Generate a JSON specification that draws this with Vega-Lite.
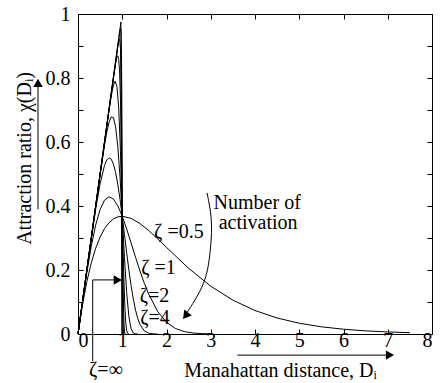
{
  "$schema": "https://vega.github.io/schema/vega-lite/v6.json",
  "width": 354,
  "height": 320,
  "autosize": {"type": "none"},
  "padding": {"left": 78, "top": 14, "right": 13, "bottom": 49},
  "background": "white",
  "config": {
    "view": {"stroke": "black", "strokeWidth": 1},
    "font": "Liberation Serif",
    "axis": {
      "labelFont": "Liberation Serif", "labelFontSize": 20, "labelColor": "black",
      "titleFont": "Liberation Serif", "titleFontSize": 20, "titleColor": "black", "titleFontWeight": "normal",
      "domainColor": "black", "tickColor": "black", "grid": false, "tickSize": -5
    }
  },
  "datasets": {
    "curves": [
      {"c":"z0.5","x":0,"y":0},{"c":"z0.5","x":0.1,"y":0.0905},{"c":"z0.5","x":0.2,"y":0.1637},{"c":"z0.5","x":0.3,"y":0.2222},{"c":"z0.5","x":0.4,"y":0.2681},{"c":"z0.5","x":0.5,"y":0.3033},{"c":"z0.5","x":0.6,"y":0.3293},{"c":"z0.5","x":0.7,"y":0.3476},{"c":"z0.5","x":0.8,"y":0.3595},{"c":"z0.5","x":0.9,"y":0.3659},{"c":"z0.5","x":1.0,"y":0.3679},{"c":"z0.5","x":1.2,"y":0.3614},{"c":"z0.5","x":1.4,"y":0.3452},{"c":"z0.5","x":1.6,"y":0.323},{"c":"z0.5","x":1.8,"y":0.2975},{"c":"z0.5","x":2.0,"y":0.2707},{"c":"z0.5","x":2.5,"y":0.2052},{"c":"z0.5","x":3.0,"y":0.1494},{"c":"z0.5","x":3.5,"y":0.1057},{"c":"z0.5","x":4.0,"y":0.0733},{"c":"z0.5","x":4.5,"y":0.05},{"c":"z0.5","x":5.0,"y":0.0337},{"c":"z0.5","x":5.5,"y":0.0225},{"c":"z0.5","x":6.0,"y":0.0149},{"c":"z0.5","x":6.5,"y":0.0098},{"c":"z0.5","x":7.0,"y":0.0064},{"c":"z0.5","x":7.5,"y":0.0041},
      {"c":"z1","x":0,"y":0},{"c":"z1","x":0.1,"y":0.099},{"c":"z1","x":0.2,"y":0.1922},{"c":"z1","x":0.3,"y":0.2742},{"c":"z1","x":0.4,"y":0.3408},{"c":"z1","x":0.5,"y":0.3894},{"c":"z1","x":0.6,"y":0.4186},{"c":"z1","x":0.7,"y":0.4288},{"c":"z1","x":0.8,"y":0.4218},{"c":"z1","x":0.9,"y":0.4004},{"c":"z1","x":1.0,"y":0.3679},{"c":"z1","x":1.1,"y":0.328},{"c":"z1","x":1.2,"y":0.2843},{"c":"z1","x":1.3,"y":0.2399},{"c":"z1","x":1.4,"y":0.1972},{"c":"z1","x":1.5,"y":0.1581},{"c":"z1","x":1.6,"y":0.1237},{"c":"z1","x":1.8,"y":0.0705},{"c":"z1","x":2.0,"y":0.0366},{"c":"z1","x":2.2,"y":0.0174},{"c":"z1","x":2.4,"y":0.0076},{"c":"z1","x":2.6,"y":0.003},{"c":"z1","x":2.8,"y":0.0011},{"c":"z1","x":3.0,"y":0.0004},
      {"c":"z2","x":0,"y":0},{"c":"z2","x":0.2,"y":0.1997},{"c":"z2","x":0.4,"y":0.3899},{"c":"z2","x":0.5,"y":0.4697},{"c":"z2","x":0.6,"y":0.527},{"c":"z2","x":0.65,"y":0.5437},{"c":"z2","x":0.7,"y":0.5506},{"c":"z2","x":0.75,"y":0.5466},{"c":"z2","x":0.8,"y":0.5311},{"c":"z2","x":0.85,"y":0.5043},{"c":"z2","x":0.9,"y":0.467},{"c":"z2","x":0.95,"y":0.4208},{"c":"z2","x":1.0,"y":0.3679},{"c":"z2","x":1.05,"y":0.3114},{"c":"z2","x":1.1,"y":0.2544},{"c":"z2","x":1.15,"y":0.2},{"c":"z2","x":1.2,"y":0.1508},{"c":"z2","x":1.25,"y":0.1089},{"c":"z2","x":1.3,"y":0.0748},{"c":"z2","x":1.35,"y":0.0487},{"c":"z2","x":1.4,"y":0.0301},{"c":"z2","x":1.5,"y":0.0095},{"c":"z2","x":1.6,"y":0.0023},{"c":"z2","x":1.7,"y":0.0004},{"c":"z2","x":1.8,"y":0},
      {"c":"z4","x":0,"y":0},{"c":"z4","x":0.5,"y":0.498},{"c":"z4","x":0.6,"y":0.59},{"c":"z4","x":0.65,"y":0.6296},{"c":"z4","x":0.7,"y":0.6608},{"c":"z4","x":0.75,"y":0.6785},{"c":"z4","x":0.8,"y":0.6764},{"c":"z4","x":0.85,"y":0.6473},{"c":"z4","x":0.9,"y":0.5852},{"c":"z4","x":0.95,"y":0.4894},{"c":"z4","x":1.0,"y":0.3679},{"c":"z4","x":1.05,"y":0.2396},{"c":"z4","x":1.1,"y":0.1289},{"c":"z4","x":1.15,"y":0.054},{"c":"z4","x":1.2,"y":0.0163},{"c":"z4","x":1.25,"y":0.0032},{"c":"z4","x":1.3,"y":0.0004},{"c":"z4","x":1.35,"y":0},
      {"c":"z8","x":0,"y":0},{"c":"z8","x":0.6,"y":0.5998},{"c":"z8","x":0.7,"y":0.6977},{"c":"z8","x":0.75,"y":0.7425},{"c":"z8","x":0.8,"y":0.7778},{"c":"z8","x":0.84,"y":0.7899},{"c":"z8","x":0.88,"y":0.7733},{"c":"z8","x":0.92,"y":0.7069},{"c":"z8","x":0.96,"y":0.5705},{"c":"z8","x":1.0,"y":0.3679},{"c":"z8","x":1.02,"y":0.2585},{"c":"z8","x":1.04,"y":0.1599},{"c":"z8","x":1.06,"y":0.0836},{"c":"z8","x":1.08,"y":0.0351},{"c":"z8","x":1.1,"y":0.0111},{"c":"z8","x":1.12,"y":0.0024},{"c":"z8","x":1.15,"y":0},
      {"c":"z16","x":0,"y":0},{"c":"z16","x":0.8,"y":0.7994},{"c":"z16","x":0.85,"y":0.8453},{"c":"z16","x":0.88,"y":0.8654},{"c":"z16","x":0.9,"y":0.8697},{"c":"z16","x":0.92,"y":0.8584},{"c":"z16","x":0.94,"y":0.8188},{"c":"z16","x":0.96,"y":0.7323},{"c":"z16","x":0.98,"y":0.5804},{"c":"z16","x":1.0,"y":0.3679},{"c":"z16","x":1.01,"y":0.2554},{"c":"z16","x":1.02,"y":0.1549},{"c":"z16","x":1.03,"y":0.0784},{"c":"z16","x":1.04,"y":0.0312},{"c":"z16","x":1.05,"y":0.009},{"c":"z16","x":1.06,"y":0.0017},{"c":"z16","x":1.08,"y":0},
      {"c":"z32","x":0,"y":0},{"c":"z32","x":0.9,"y":0.8989},{"c":"z32","x":0.92,"y":0.9156},{"c":"z32","x":0.94,"y":0.9223},{"c":"z32","x":0.96,"y":0.8921},{"c":"z32","x":0.98,"y":0.7448},{"c":"z32","x":0.99,"y":0.5853},{"c":"z32","x":1.0,"y":0.3679},{"c":"z32","x":1.01,"y":0.1525},{"c":"z32","x":1.02,"y":0.0293},{"c":"z32","x":1.03,"y":0.0014},{"c":"z32","x":1.04,"y":0},
      {"c":"z64","x":0,"y":0},{"c":"z64","x":0.94,"y":0.9397},{"c":"z64","x":0.96,"y":0.9549},{"c":"z64","x":0.97,"y":0.9505},{"c":"z64","x":0.98,"y":0.9088},{"c":"z64","x":0.99,"y":0.751},{"c":"z64","x":0.995,"y":0.5877},{"c":"z64","x":1.0,"y":0.3679},{"c":"z64","x":1.005,"y":0.1513},{"c":"z64","x":1.01,"y":0.0284},{"c":"z64","x":1.015,"y":0.0012},{"c":"z64","x":1.02,"y":0},
      {"c":"zinf","x":0,"y":0},{"c":"zinf","x":0.97,"y":0.975},{"c":"zinf","x":0.99,"y":0}
    ],
    "rules": [
      {"x":0.332,"y":-0.085,"x2":0.332,"y2":0.169},
      {"x":0.332,"y":0.169,"x2":0.9,"y2":0.169},
      {"x":-0.904,"y":0.39,"x2":-0.904,"y2":0.78},
      {"x":3.6,"y":-0.066,"x2":7.0,"y2":-0.066}
    ],
    "arc": [
      {"i":1,"x":2.915,"y":0.441},{"i":2,"x":3.006,"y":0.381},{"i":3,"x":3.028,"y":0.319},{"i":4,"x":2.983,"y":0.247},{"i":5,"x":2.915,"y":0.184},{"i":6,"x":2.757,"y":0.131},{"i":7,"x":2.531,"y":0.081},{"i":8,"x":2.44,"y":0.062}
    ],
    "headsRight": [{"x":0.9,"y":0.169},{"x":7.05,"y":-0.066}],
    "headsUp": [{"x":-0.904,"y":0.785}],
    "headsArc": [{"x":2.43,"y":0.057}],
    "labels": [
      {"t":"ζ =0.5","x":2.28,"y":0.32},
      {"t":"ζ =1","x":1.82,"y":0.205},
      {"t":"ζ=2","x":1.73,"y":0.12},
      {"t":"ζ=4","x":1.74,"y":0.05},
      {"t":"ζ=∞","x":0.63,"y":-0.112},
      {"t":"Number of","x":4.05,"y":0.409},
      {"t":"activation","x":4.07,"y":0.347}
    ]
  },
  "layer": [
    {
      "data": {"name": "curves"},
      "mark": {"type": "line", "color": "black", "strokeWidth": 1},
      "encoding": {
        "x": {"field": "x", "type": "quantitative", "scale": {"domain": [0, 8], "nice": false, "zero": false},
          "axis": {"orient": "bottom", "values": [0,1,2,3,4,5,6,7,8], "format": "d", "labelPadding": 1,
            "title": "Manahattan distance, Dᵢ", "titleX": 202, "titleY": 36, "titleAlign": "center", "titleBaseline": "middle"}},
        "y": {"field": "y", "type": "quantitative", "scale": {"domain": [0, 1], "nice": false, "zero": false},
          "axis": {"orient": "left", "values": [0,0.1,0.2,0.3,0.4,0.5,0.6,0.7,0.8,0.9,1],
            "labelExpr": "datum.value == 0 ? '0' : datum.value == 1 ? '1' : (round(datum.value*10) % 2 == 0 ? format(datum.value, '.1f') : '')",
            "labelPadding": 13,
            "title": "Attraction ratio, χ(Dᵢ)", "titleX": -54, "titleY": 144, "titleAngle": -90, "titleAlign": "center", "titleBaseline": "middle"}},
        "detail": {"field": "c"}
      }
    },
    {
      "data": {"name": "curves"},
      "mark": {"type": "line", "opacity": 0},
      "encoding": {
        "x": {"field": "x", "type": "quantitative", "scale": {"domain": [0, 8], "nice": false, "zero": false},
          "axis": {"orient": "top", "values": [0,1,2,3,4,5,6,7,8], "labels": false, "title": null}},
        "y": {"field": "y", "type": "quantitative", "scale": {"domain": [0, 1], "nice": false, "zero": false},
          "axis": {"orient": "right", "values": [0,0.1,0.2,0.3,0.4,0.5,0.6,0.7,0.8,0.9,1], "labels": false, "title": null}},
        "detail": {"field": "c"}
      }
    },
    {
      "data": {"name": "rules"},
      "mark": {"type": "rule", "color": "black", "strokeWidth": 1},
      "encoding": {
        "x": {"field": "x", "type": "quantitative", "scale": {"domain": [0, 8], "nice": false, "zero": false}, "axis": null},
        "y": {"field": "y", "type": "quantitative", "scale": {"domain": [0, 1], "nice": false, "zero": false}, "axis": null},
        "x2": {"field": "x2"},
        "y2": {"field": "y2"}
      }
    },
    {
      "data": {"name": "arc"},
      "mark": {"type": "line", "color": "black", "strokeWidth": 1, "interpolate": "basis"},
      "encoding": {
        "x": {"field": "x", "type": "quantitative", "scale": {"domain": [0, 8], "nice": false, "zero": false}, "axis": null},
        "y": {"field": "y", "type": "quantitative", "scale": {"domain": [0, 1], "nice": false, "zero": false}, "axis": null},
        "order": {"field": "i"}
      }
    },
    {
      "data": {"name": "headsRight"},
      "mark": {"type": "point", "shape": "triangle-right", "filled": true, "color": "black", "size": 90, "opacity": 1},
      "encoding": {
        "x": {"field": "x", "type": "quantitative", "scale": {"domain": [0, 8], "nice": false, "zero": false}, "axis": null},
        "y": {"field": "y", "type": "quantitative", "scale": {"domain": [0, 1], "nice": false, "zero": false}, "axis": null}
      }
    },
    {
      "data": {"name": "headsUp"},
      "mark": {"type": "point", "shape": "triangle-up", "filled": true, "color": "black", "size": 90, "opacity": 1},
      "encoding": {
        "x": {"field": "x", "type": "quantitative", "scale": {"domain": [0, 8], "nice": false, "zero": false}, "axis": null},
        "y": {"field": "y", "type": "quantitative", "scale": {"domain": [0, 1], "nice": false, "zero": false}, "axis": null}
      }
    },
    {
      "data": {"name": "headsArc"},
      "mark": {"type": "point", "shape": "triangle-up", "angle": 218, "filled": true, "color": "black", "size": 90, "opacity": 1},
      "encoding": {
        "x": {"field": "x", "type": "quantitative", "scale": {"domain": [0, 8], "nice": false, "zero": false}, "axis": null},
        "y": {"field": "y", "type": "quantitative", "scale": {"domain": [0, 1], "nice": false, "zero": false}, "axis": null}
      }
    },
    {
      "data": {"name": "labels"},
      "mark": {"type": "text", "font": "Liberation Serif", "fontSize": 20, "color": "black", "align": "center", "baseline": "middle"},
      "encoding": {
        "x": {"field": "x", "type": "quantitative", "scale": {"domain": [0, 8], "nice": false, "zero": false}, "axis": null},
        "y": {"field": "y", "type": "quantitative", "scale": {"domain": [0, 1], "nice": false, "zero": false}, "axis": null},
        "text": {"field": "t"}
      }
    }
  ],
  "resolve": {"axis": {"x": "independent", "y": "independent"}}
}
